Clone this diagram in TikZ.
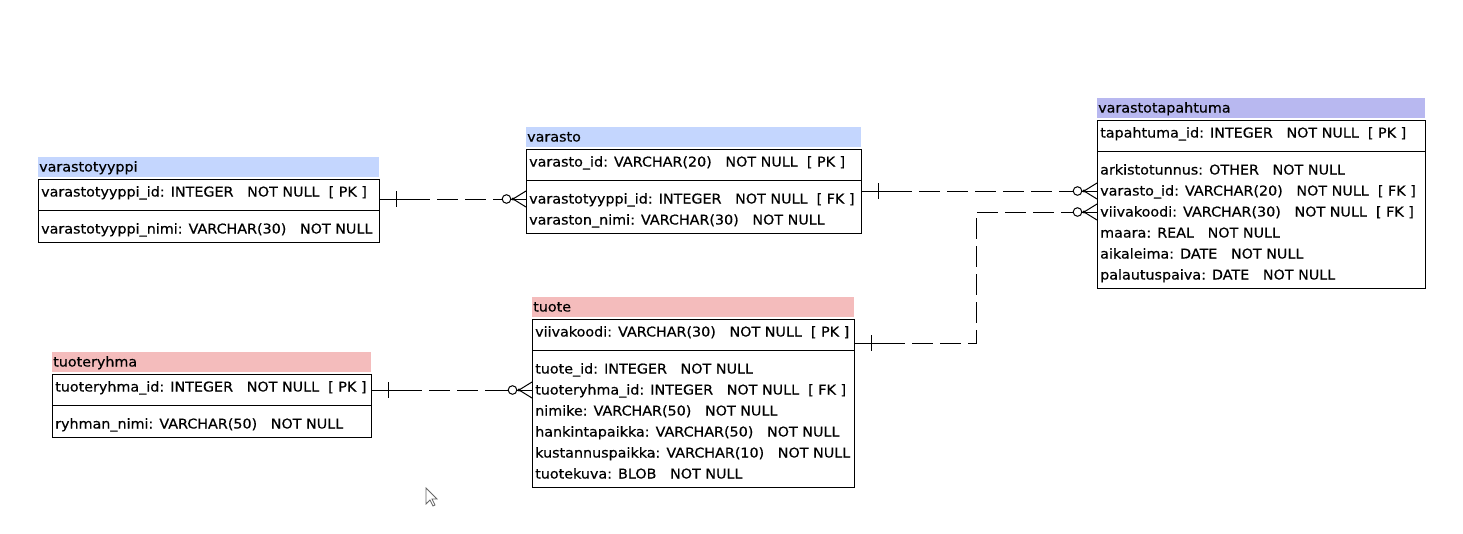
\documentclass[tikz,border=0pt]{standalone}
\usepackage{fontspec}
\newfontfamily\erfont{DejaVu Sans}[FakeStretch=1.06, FakeBold=0.4]
\definecolor{hblue}{RGB}{196,214,254}
\definecolor{hpurple}{RGB}{184,184,240}
\definecolor{hpink}{RGB}{244,188,188}
\tikzset{
  tbox/.style={draw=black, line width=1.1pt, inner sep=0pt, anchor=north west},
  rowtxt/.style={anchor=west, inner sep=0pt, text height=10pt, text depth=1pt,
                 font=\erfont\fontsize{13.5}{15}\selectfont},
  hdrtxt/.style={rowtxt},
  relline/.style={line width=1pt, dash pattern=on 21pt off 7pt, dash phase=27pt},
  relsolid/.style={line width=1pt},
}
% #1 name, #2 x left, #3 x right, #4 header top, #5 colour, #6 title, #7 pk row, #8 number of rows, #9 rows
\newcommand\ertable[9]{%
  \fill[#5] (#2,#4) rectangle (#3,#4+20);
  \node[hdrtxt] (#1-title) at (#2+1,#4+10) {#6};
  \node[tbox, minimum width=#3-#2, minimum height=42+21*#8] (#1) at (#2,#4+22) {};
  \draw[line width=1pt] (#2,#4+53) -- (#3,#4+53);
  \node[rowtxt] (#1-pk) at (#2+3,#4+35) {#7};
  \foreach \r [count=\i] in {#9} {\node[rowtxt] (#1-\i) at (#2+3,#4+51+21*\i) {\r};}
}
\newcommand\onemark[1]{%
  \draw[relsolid] (#1) -- ++(50,0);
  \draw[relsolid] ([xshift=16pt]#1) ++(0,-8) -- ++(0,16);
}
\newcommand\manymark[1]{%
  \draw[relsolid] (#1) -- ++(-26,0);
  \draw[relsolid] ([xshift=-13pt]#1) -- ++(13,-8) ([xshift=-13pt]#1) -- ++(13,8);
  \fill ([xshift=-13pt]#1) circle (1.6pt);
  \draw[relsolid, fill=white] ([xshift=-19.5pt]#1) circle (4.3pt);
}
\begin{document}
\begin{tikzpicture}[x=1pt, y=-1pt]
\useasboundingbox (0,0) rectangle (1463,533);
\fill[white] (0,0) rectangle (1463,533);

\ertable{vtyp}{38}{379}{157}{hblue}{varastotyyppi}{varastotyyppi\_id: INTEGER~~~NOT NULL~~[ PK ]}{1}{varastotyyppi\_nimi: VARCHAR(30)~~~NOT NULL}
\ertable{vas}{526}{861}{127}{hblue}{varasto}{varasto\_id: VARCHAR(20)~~~NOT NULL~~[ PK ]}{2}{varastotyyppi\_id: INTEGER~~~NOT NULL~~[ FK ], varaston\_nimi: VARCHAR(30)~~~NOT NULL}
\ertable{vtap}{1097}{1425}{98}{hpurple}{varastotapahtuma}{tapahtuma\_id: INTEGER~~~NOT NULL~~[ PK ]}{6}{arkistotunnus: OTHER~~~NOT NULL, varasto\_id: VARCHAR(20)~~~NOT NULL~~[ FK ], viivakoodi: VARCHAR(30)~~~NOT NULL~~[ FK ], maara: REAL~~~NOT NULL, aikaleima: DATE~~~NOT NULL, palautuspaiva: DATE~~~NOT NULL}
\ertable{tuo}{532}{854}{297}{hpink}{tuote}{viivakoodi: VARCHAR(30)~~~NOT NULL~~[ PK ]}{6}{tuote\_id: INTEGER~~~NOT NULL, tuoteryhma\_id: INTEGER~~~NOT NULL~~[ FK ], nimike: VARCHAR(50)~~~NOT NULL, hankintapaikka: VARCHAR(50)~~~NOT NULL, kustannuspaikka: VARCHAR(10)~~~NOT NULL, tuotekuva: BLOB~~~NOT NULL}
\ertable{tryh}{52}{371}{352}{hpink}{tuoteryhma}{tuoteryhma\_id: INTEGER~~~NOT NULL~~[ PK ]}{1}{ryhman\_nimi: VARCHAR(50)~~~NOT NULL}

% varastotyyppi -> varasto
\coordinate (r1s) at (vtyp.east |- vas-1);
\coordinate (r1t) at (vas.west |- vas-1);
\draw[relline] (r1s) -- (r1t);
\onemark{r1s}\manymark{r1t}

% varasto -> varastotapahtuma
\coordinate (r2s) at (vas.east |- vtap-2);
\coordinate (r2t) at (vtap.west |- vtap-2);
\draw[relline] (r2s) -- (r2t);
\onemark{r2s}\manymark{r2t}

% tuote -> varastotapahtuma
\coordinate (r3s) at ([yshift=-11pt]tuo.east |- tuo-pk);
\coordinate (r3t) at (vtap.west |- vtap-3);
\coordinate (jx) at (976,0);
\draw[relline] (r3s) -- (r3s -| jx) -- (r3t -| jx) -- (r3t);
\onemark{r3s}\manymark{r3t}

% tuoteryhma -> tuote
\coordinate (r4s) at (tryh.east |- tuo-2);
\coordinate (r4t) at (tuo.west |- tuo-2);
\draw[relline] (r4s) -- (r4t);
\onemark{r4s}\manymark{r4t}

% mouse pointer
\draw[black!60, fill=white, line width=0.8pt, line join=miter]
  (426,488) -- ++(0,16) -- ++(4,-4) -- ++(3,6) -- ++(2,-1) -- ++(-3,-6) -- ++(5,0) -- cycle;
\end{tikzpicture}
\end{document}
